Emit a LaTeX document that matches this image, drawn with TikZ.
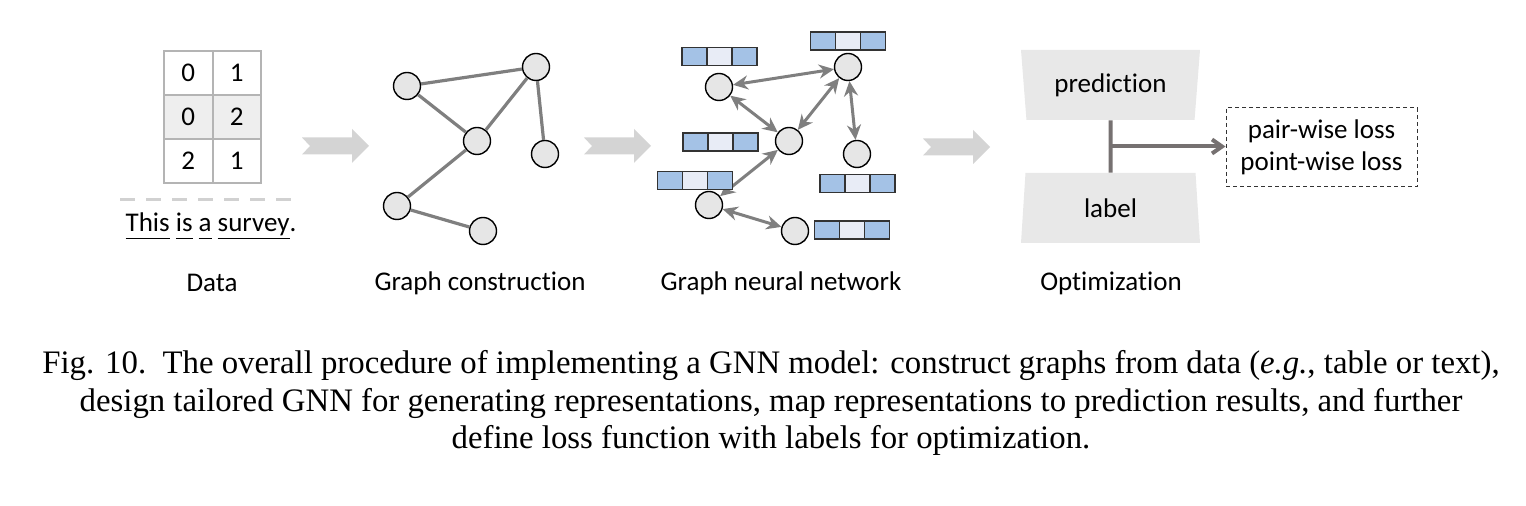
\documentclass[tikz,border=0pt]{standalone}
\usepackage{fontspec}
\setmainfont{Carlito}[Ligatures=NoCommon]
\newfontfamily\capfont{Liberation Serif}
\usepackage{xcolor}
\usetikzlibrary{arrows.meta,shapes.geometric,positioning,calc}

\definecolor{nodegray}{HTML}{E6E6E6}
\definecolor{edgegray}{HTML}{7F7F7F}
\definecolor{fatgray}{HTML}{D4D4D4}
\definecolor{tabline}{HTML}{B4B4B4}
\definecolor{tabfill}{HTML}{EEEEEE}
\definecolor{vecblue}{HTML}{A4C2E6}
\definecolor{veclight}{HTML}{E8ECF6}
\definecolor{trapgray}{HTML}{E8E8E8}
\definecolor{optgray}{HTML}{767171}

\newcommand\uword[1]{\underline{#1\vphantom{y}}}

\begin{document}
\begin{tikzpicture}[
  x=0.5pt, y=-0.5pt,
  every node/.style={font=\fontsize{13.5}{16}\selectfont},
  cell/.style={draw=tabline, line width=1pt, minimum width=24.25pt,
               minimum height=22pt, inner sep=0pt, outer sep=0pt},
  gnode/.style={circle, draw=black, line width=0.7pt, fill=nodegray,
                minimum size=13.5pt, inner sep=0pt},
  gedge/.style={draw=edgegray, line width=1.6pt},
  msg/.style={{Stealth[length=7.5pt,width=7pt]}-{Stealth[length=7.5pt,width=7pt]},
              draw=edgegray, line width=1.5pt},
  vcell/.style={draw=black!80, line width=0.6pt, minimum width=12.5pt,
                minimum height=9pt, inner sep=0pt, outer sep=0pt},
  trap/.style={trapezium, trapezium stretches body, fill=trapgray,
               minimum width=89.5pt, minimum height=35pt, inner sep=0pt},
  optline/.style={draw=optgray, line width=2pt},
  sepline/.style={draw=black!18, line width=1.5pt, dash pattern=on 7.5pt off 5.5pt},
  lossbox/.style={draw=black!80, line width=0.5pt, dash pattern=on 2pt off 1.5pt,
                  minimum width=95.5pt, minimum height=39.5pt, align=center,
                  inner sep=0pt},
  fatarrow/.pic={\fill[fatgray] (0,-8.5) -- (50,-8.5) -- (50,-17) -- (67,0)
                 -- (50,17) -- (50,8.5) -- (0,8.5) -- (8,0) -- cycle;},
]
\useasboundingbox (0,0) rectangle (1526,506);

%% ---- data: table and sentence ----
\foreach \r/\a/\b in {1/0/1, 2/0/2, 3/2/1} {
  \ifnum\r=2 \def\cf{tabfill}\else \def\cf{white}\fi
  \node[cell, fill=\cf] (t\r a) at (188.25, 29+44*\r) {\a};
  \node[cell, fill=\cf, right=0pt of t\r a] (t\r b) {\b};
}
\coordinate (sepL) at (120,200);
\coordinate (sepR) at (293,200);
\draw[sepline] (sepL) -- (sepR);
\node (sent) at (211,226) {\uword{This} \uword{is} \uword{a} \uword{survey}.};

%% ---- graph construction ----
\node[gnode] (a) at (407,86)  {};
\node[gnode] (b) at (536,67)  {};
\node[gnode] (c) at (477,141) {};
\node[gnode] (d) at (545,154) {};
\node[gnode] (e) at (397,206) {};
\node[gnode] (f) at (483,231) {};
\foreach \u/\v in {a/b, a/c, b/c, b/d, c/e, e/f}
  \draw[gedge] (\u) -- (\v);

%% ---- graph neural network ----
\node[gnode] (n1) at (719,87)  {};
\node[gnode] (n2) at (848,67)  {};
\node[gnode] (n3) at (789,141) {};
\node[gnode] (n4) at (857,154) {};
\node[gnode] (n5) at (709,205) {};
\node[gnode] (n6) at (795,231) {};
\foreach \u/\v in {n1/n2, n1/n3, n2/n3, n2/n4, n3/n5, n5/n6}
  \draw[msg] (\u) -- (\v);

\foreach \k/\x/\y in {1/719.5/56.5, 2/848/41, 3/720.5/142,
                      4/857.5/183.5, 5/695/180.5, 6/852/230} {
  \node[vcell, fill=veclight] (v\k) at (\x,\y) {};
  \node[vcell, fill=vecblue, left=0pt of v\k]  (v\k l) {};
  \node[vcell, fill=vecblue, right=0pt of v\k] (v\k r) {};
}

%% ---- optimization ----
\node[trap, trapezium angle=103.3] (pred) at (1110.5,85)  {prediction};
\node[trap, trapezium angle=76.7]  (lbl)  at (1110.5,208) {label};
\node[lossbox] (loss) at (1321.5,147.5) {pair-wise loss\\point-wise loss};
\coordinate (mid) at ($(pred.south)!0.5!(lbl.north)$);
\draw[optline] (pred.south) -- (lbl.north);
\draw[optline, -{Straight Barb[length=5pt,width=7pt]}] (mid) -- (mid -| loss.west);

%% ---- stage arrows ----
\pic at (302,146) {fatarrow};
\pic at (584,146) {fatarrow};
\pic at (923,147) {fatarrow};

%% ---- stage labels ----
\node (lData) at (212,283)  {Data};
\node (lCons) at (480,283)  {Graph construction};
\node (lGnn)  at (781,283)  {Graph neural network};
\node (lOpt)  at (1111,283) {Optimization};

%% ---- caption ----
\node[font=\capfont\fontsize{16.4}{18.75}\selectfont, align=center] (cap) at (771,403)
  {Fig. 10.\enspace The overall procedure of implementing a GNN model: construct graphs from data (\textit{e.g.}, table or text),\\
   design tailored GNN for generating representations, map representations to prediction results, and further\\
   define loss function with labels for optimization.};
\end{tikzpicture}
\end{document}
